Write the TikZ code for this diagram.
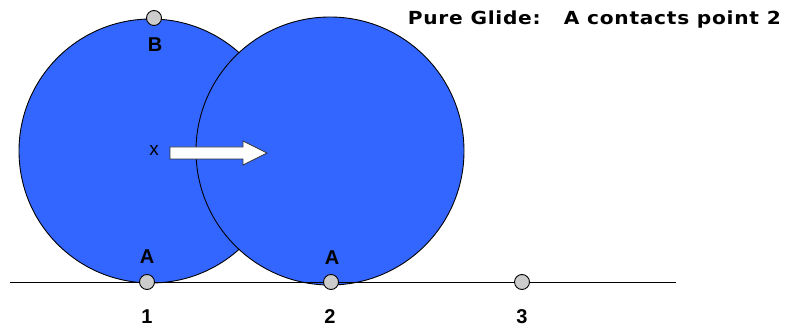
\documentclass[tikz,border=0pt]{standalone}
\usepackage{fontspec}
\setmainfont{Liberation Sans}
\newfontfamily\titlefont[LetterSpace=4,FakeStretch=1.12]{DejaVu Sans}
\usetikzlibrary{shapes.arrows}
\definecolor{wheelblue}{HTML}{3366FF}
\definecolor{ptgrey}{HTML}{CCCCCC}
\tikzset{
  wheel/.style={draw=black, line width=0.9pt, fill=wheelblue},
  pt/.style={circle, draw=black, line width=0.9pt, fill=ptgrey, minimum size=15pt, inner sep=0pt},
  lbl/.style={font=\fontsize{20}{20}\selectfont\bfseries, inner sep=0pt},
}
\begin{document}
\begin{tikzpicture}[x=1pt,y=-1pt]
\useasboundingbox (0,0) rectangle (789,328);
% wheels
\draw[wheel] (151,151) circle[radius=132];
\draw[wheel] (330,151) circle[radius=134];
% ground line
\coordinate (g0) at (10,282);
\coordinate (g1) at (676,282);
\draw[line width=0.9pt] (g0) -- (g1);
% points
\node[pt] (p1) at (147,282) {};
\node[pt] (p2) at (331,282) {};
\node[pt] (p3) at (522,282) {};
\node[pt] (pB) at (154,18) {};
% labels
\node[lbl] (lB) at (155,45) {B};
\node[lbl] (lA1) at (147,257) {A};
\node[lbl] (lA2) at (332,258) {A};
\node[lbl] (l1) at (147,317) {1};
\node[lbl] (l2) at (330,317) {2};
\node[lbl] (l3) at (522,317) {3};
\node[inner sep=0pt, font=\fontsize{19}{19}\selectfont] (lx) at (154,150) {x};
% block arrow
\draw[fill=white, draw=black!80, line width=0.8pt]
  (170,147) -- (243,147) -- (243,141) -- (267,153) -- (243,165) -- (243,159) -- (170,159) -- cycle;
% title
\node[anchor=east, inner sep=0pt, font=\titlefont\fontsize{18}{18}\selectfont\bfseries] (title) at (781,20) {Pure Glide:\ \ \ A contacts point 2};
\end{tikzpicture}
\end{document}
